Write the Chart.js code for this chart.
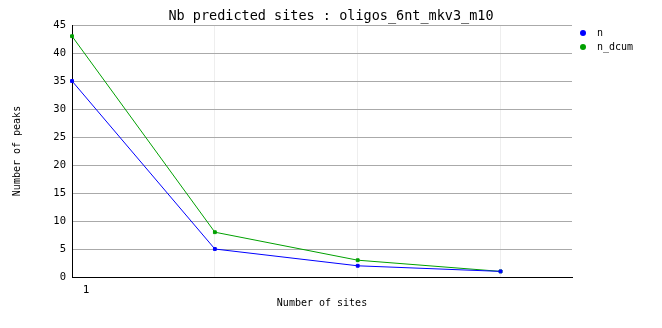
<!DOCTYPE html>
<html>
<head>
<meta charset="utf-8">
<script src="https://cdn.jsdelivr.net/npm/chart.js@4"></script>
<style>
  html, body { margin: 0; padding: 0; background: #fff; }
  #wrap { width: 662px; height: 328px; }
</style>
</head>
<body>
<div id="wrap"><canvas id="chart" width="662" height="328"></canvas></div>
<script>
// 데이터
const chartTitle = 'Nb predicted sites : oligos_6nt_mkv3_m10';
const siteCounts = [1, 2, 3, 4];
const nValues = [35, 5, 2, 1];
const nDcumValues = [43, 8, 3, 1];
const seriesNames = ['n', 'n_dcum'];
const seriesColors = ['#0000ff', '#00a000'];
const yMax = 45;
const yStep = 5;

const FONT = 'DejaVu Sans Mono';

function toPoints(xs, ys) {
    return xs.map((x, i) => ({ x: x, y: ys[i] }));
}

// 오른쪽 범례 그리기
const sideLegend = {
    id: 'sideLegend',
    afterDraw(chart) {
        const ctx = chart.ctx;
        ctx.save();
        ctx.font = '10px ' + FONT;
        ctx.textBaseline = 'middle';
        chart.data.datasets.forEach((ds, i) => {
            const y = 33 + i * 14;
            ctx.fillStyle = ds.borderColor;
            ctx.beginPath();
            ctx.arc(583, y, 3, 0, Math.PI * 2);
            ctx.fill();
            ctx.fillStyle = '#000';
            ctx.fillText(ds.label, 597, y);
        });
        ctx.restore();
    }
};

function makeDataset(i, values) {
    return {
        label: seriesNames[i],
        data: toPoints(siteCounts, values),
        borderColor: seriesColors[i],
        backgroundColor: seriesColors[i],
        borderWidth: 1,
        pointStyle: 'rect',
        pointRadius: 2,
        tension: 0,
        clip: false
    };
}

new Chart(document.getElementById('chart'), {
    type: 'line',
    data: {
        datasets: [makeDataset(0, nValues), makeDataset(1, nDcumValues)]
    },
    options: {
        responsive: false,
        animation: false,
        layout: { padding: 0 },
        plugins: {
            legend: { display: false },
            tooltip: { enabled: false },
            title: {
                display: true,
                text: chartTitle,
                color: '#000',
                font: { family: FONT, size: 13.5, weight: 'normal' },
                padding: { top: 8.8, bottom: 0 }
            }
        },
        scales: {
            x: {
                type: 'linear',
                min: 1,
                max: 4.5,
                afterFit(scale) { scale.height = 51; },
                afterBuildTicks(scale) {
                    scale.ticks = siteCounts.map(v => ({ value: v }));
                },
                border: { color: '#000', width: 1 },
                grid: {
                    drawTicks: false,
                    color: ctx => (ctx.tick && ctx.tick.value === 1) ? 'rgba(0,0,0,0)' : '#eeeeee'
                },
                ticks: {
                    color: '#000',
                    font: { family: FONT, size: 11 },
                    padding: 7,
                    labelOffset: 14,
                    maxRotation: 0,
                    callback: v => v === 1 ? '1' : ''
                },
                title: {
                    display: true,
                    text: 'Number of sites',
                    color: '#000',
                    font: { family: FONT, size: 10 },
                    padding: { top: 0, bottom: 19 }
                }
            },
            y: {
                min: 0,
                max: yMax,
                afterFit(scale) { scale.width = 72; },
                border: { color: '#000', width: 1 },
                grid: { drawTicks: false, color: '#aaaaaa' },
                ticks: {
                    stepSize: yStep,
                    color: '#000',
                    font: { family: FONT, size: 10.5 },
                    padding: 6
                },
                title: {
                    display: true,
                    text: 'Number of peaks',
                    color: '#000',
                    font: { family: FONT, size: 10 },
                    padding: { top: 11, bottom: 0 }
                }
            },
            // 오른쪽 범례 공간용 빈 축
            legendSpace: {
                type: 'linear',
                position: 'right',
                display: true,
                afterFit(scale) { scale.width = 90; },
                border: { display: false },
                grid: { display: false },
                ticks: { display: false }
            }
        }
    },
    plugins: [sideLegend]
});
</script>
</body>
</html>
